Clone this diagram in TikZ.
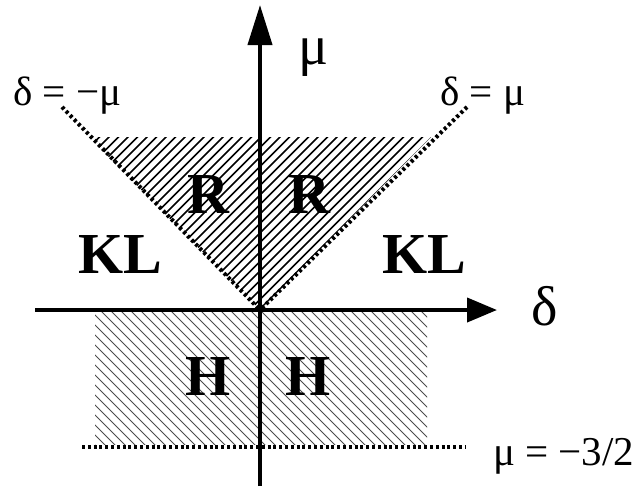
\documentclass[tikz,border=0pt]{standalone}
\usepackage{fontspec}
\setmainfont{Liberation Serif}
\usetikzlibrary{arrows.meta}
\begin{document}
\begin{tikzpicture}[x=1pt,y=-1pt,
  axis/.style={line width=4pt},
  dotline/.style={line width=4pt,dash pattern=on 3pt off 2.8pt},
  region/.style={font=\fontsize{58}{58}\selectfont\bfseries,inner sep=0pt},
  lab/.style={font=\fontsize{41}{41}\selectfont,inner sep=0pt},
  axlab/.style={font=\fontsize{56}{56}\selectfont,inner sep=0pt}]
\useasboundingbox (0,0) rectangle (642,488);
% coordinates
\coordinate (O) at (260,310);
\coordinate (ybot) at (260,486);
\coordinate (ytop) at (260,5);
\coordinate (xleft) at (35,310);
\coordinate (xright) at (497,310);
\coordinate (dl) at (62,107);
\coordinate (dr) at (467,107);
\coordinate (hl) at (82,447);
\coordinate (hr) at (465,447);
% R hatch
\begin{scope}
\clip (O) -- (89,137) -- (431,137) -- cycle;
\foreach \i in {0,...,60} {
  \draw[line width=1.5pt] (-150+9.5*\i,320) -- ++(200,-200);
}
\end{scope}
% H hatch
\begin{scope}
\clip (95,312) rectangle (427,444);
\foreach \i in {0,...,60} {
  \draw[line width=1pt,black!70] (-60+10*\i,300) -- ++(160,160);
}
\end{scope}
% dotted lines
\draw[dotline] (dl) -- (O);
\draw[dotline] (dr) -- (O);
\draw[dotline] (hl) -- (hr);
% axes
\draw[axis,-{Triangle[length=40pt,width=24pt]}] (ybot) -- (ytop);
\draw[axis,-{Triangle[length=30pt,width=24pt]}] (xleft) -- (xright);
% labels
\node[axlab,anchor=base west] (mu) at (298,64) {μ};
\node[axlab,anchor=base west] (delta) at (531,325) {δ};
\node[lab,anchor=base west] (l1) at (13,105) {δ = −μ};
\node[lab,anchor=base west] (l2) at (440,105) {δ = μ};
\node[lab,anchor=base west] (l3) at (493,465) {μ = −3/2};
\node[region,anchor=base west] (kl1) at (78,273) {KL};
\node[region,anchor=base west] (kl2) at (382,273) {KL};
\node[region,anchor=base west] (r1) at (187,213) {R};
\node[region,anchor=base west] (r2) at (288,213) {R};
\node[region,anchor=base west] (h1) at (185,395) {H};
\node[region,anchor=base west] (h2) at (285,395) {H};
\end{tikzpicture}
\end{document}
